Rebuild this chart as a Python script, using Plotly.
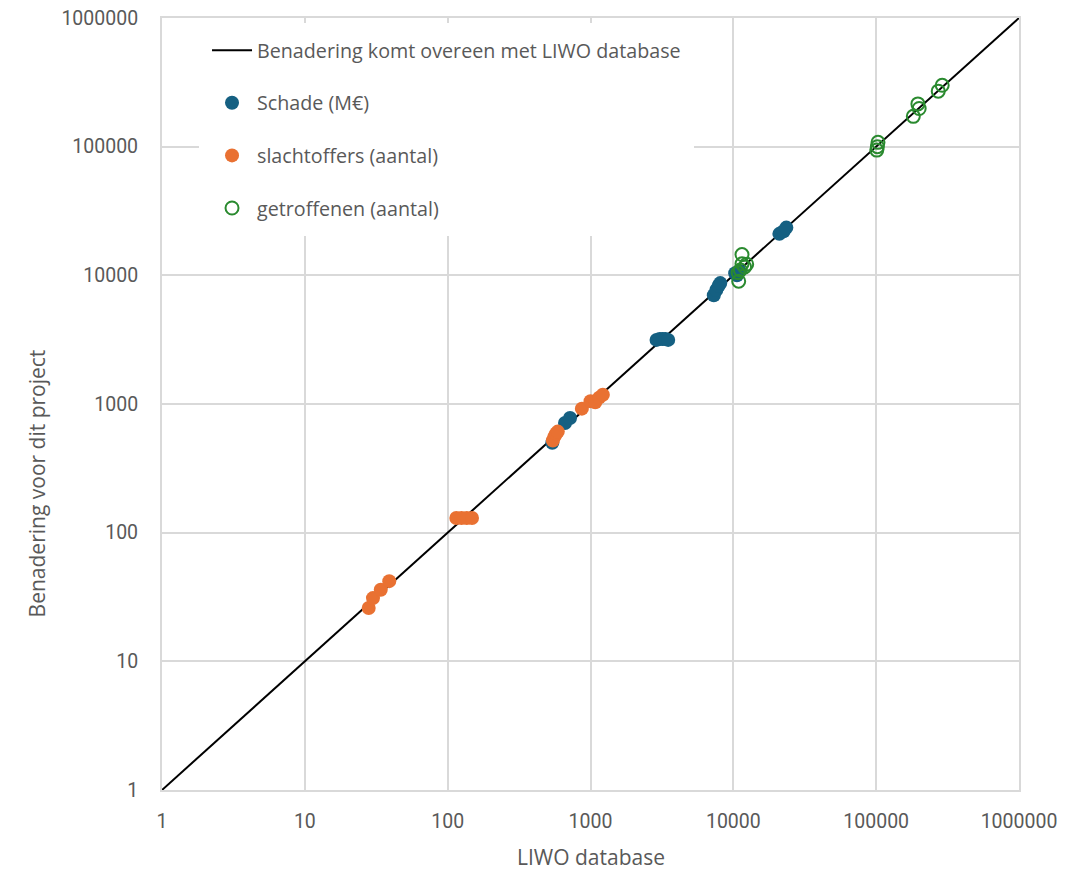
import plotly.graph_objects as go

# Diagonal reference
line_x = [1, 1000000]
line_y = [1, 1000000]

# Schade (M€)
schade_x = [540, 663, 719, 2900, 3050, 3200, 3350, 3500, 7300, 7600, 7900, 8100, 10300, 10600, 11000, 21000, 22500, 23500]
schade_y = [500, 712, 778, 3150, 3200, 3200, 3200, 3150, 7000, 7700, 8300, 8700, 10400, 10000, 10800, 21000, 22000, 23500]

# slachtoffers (aantal)
slacht_x = [28, 30, 34, 39, 115, 125, 136, 148, 545, 560, 575, 590, 870, 1000, 1080, 1150, 1220]
slacht_y = [26, 31, 36, 42, 130, 130, 130, 130, 520, 560, 590, 610, 920, 1050, 1030, 1120, 1180]

# getroffenen (aantal)
getr_x = [11500, 11500, 12400, 12000, 10800, 10900, 11200, 103000, 102000, 101000, 196000, 200000, 182000, 290000, 272000]
getr_y = [14500, 12300, 12200, 11600, 10500, 9000, 11000, 108000, 100000, 94000, 215000, 198000, 172000, 300000, 270000]

tick_vals = [1, 10, 100, 1000, 10000, 100000, 1000000]
tick_text = ["1", "10", "100", "1000", "10000", "100000", "1000000"]

fig = go.Figure()
fig.add_trace(go.Scatter(x=line_x, y=line_y, mode="lines", name="Benadering komt overeen met LIWO database",
                         line=dict(color="black", width=2), legendgroup="a"))
fig.add_trace(go.Scatter(x=schade_x, y=schade_y, mode="markers", name="Schade (M€)",
                         marker=dict(color="#156082", size=14), legendgroup="b"))
fig.add_trace(go.Scatter(x=slacht_x, y=slacht_y, mode="markers", name="slachtoffers (aantal)",
                         marker=dict(color="#E97132", size=14), legendgroup="c"))
fig.add_trace(go.Scatter(x=getr_x, y=getr_y, mode="markers", name="getroffenen (aantal)",
                         marker=dict(color="rgba(0,0,0,0)", size=13, line=dict(color="#2a8a2f", width=2)),
                         legendgroup="d"))

axis_common = dict(type="log", range=[0, 6], tickvals=tick_vals, ticktext=tick_text,
                   showgrid=True, gridcolor="#d9d9d9", gridwidth=2,
                   showline=True, mirror=True, linecolor="#d9d9d9", linewidth=2,
                   tickfont=dict(family="Roboto, sans-serif", size=19.5, color="#595959"),
                   zeroline=False, automargin=False, ticklabeloverflow="allow")

title_font = dict(family="Open Sans, sans-serif", size=21, color="#595959")

fig.update_layout(
    width=1079, height=862,
    margin=dict(l=154, r=68, t=10, b=80, autoexpand=False),
    plot_bgcolor="white", paper_bgcolor="white",
    xaxis=dict(**axis_common, ticklabelstandoff=13),
    yaxis=dict(**axis_common, ticklabelstandoff=18),
    showlegend=True,
    legend=dict(x=0.0432, y=0.9937, xanchor="left", yanchor="top", bgcolor="white",
                bordercolor="white", borderwidth=8,
                font=dict(family="Open Sans, sans-serif", size=19.7, color="#595959"),
                traceorder="grouped", tracegroupgap=24, itemwidth=40),
    annotations=[
        dict(text="Benadering voor dit project", xref="paper", yref="paper",
             x=-0.146, y=0.397, xanchor="center", yanchor="middle", textangle=-90, showarrow=False,
             font=title_font),
        dict(text="LIWO database", xref="paper", yref="paper",
             x=0.5, y=-0.087, xanchor="center", yanchor="middle", showarrow=False,
             font=title_font),
    ],
)

fig.write_html("out.html")
